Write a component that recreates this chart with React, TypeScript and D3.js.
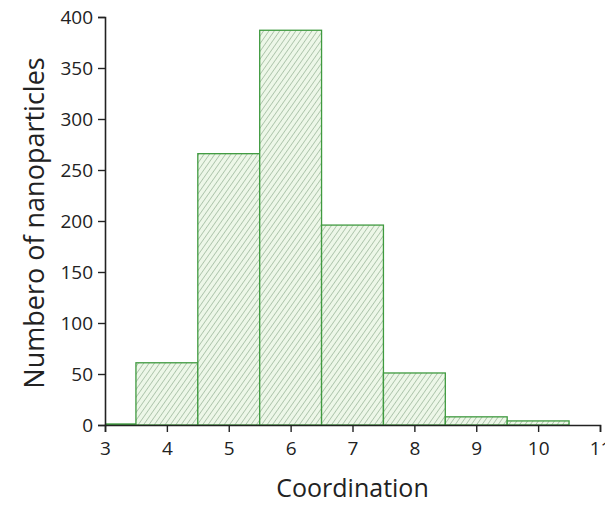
import React, { useEffect, useRef } from 'react';
import * as d3 from 'd3';

// histogram bins (centre of bin) and counts
const binCenters = [3, 4, 5, 6, 7, 8, 9, 10];
const counts = [1, 61, 266, 387, 196, 51, 8, 4];
const xTicks = [3, 4, 5, 6, 7, 8, 9, 10, 11];
const yTicks = [0, 50, 100, 150, 200, 250, 300, 350, 400];

const App = () => {
  const ref = useRef<SVGSVGElement>(null);

  useEffect(() => {
    const width = 605;
    const height = 506;
    const margin = { top: 17, right: 5, bottom: 81, left: 105 };

    const svg = d3.select(ref.current);
    svg.selectAll('*').remove();
    svg.attr('width', width).attr('height', height);

    const font = '"Open Sans", Lato, sans-serif';

    const x = d3.scaleLinear().domain([3, 11]).range([margin.left, width - margin.right]);
    const y = d3.scaleLinear().domain([0, 400]).range([height - margin.bottom, margin.top]);

    const defs = svg.append('defs');
    const pat = defs.append('pattern')
      .attr('id', 'hatch')
      .attr('patternUnits', 'userSpaceOnUse')
      .attr('width', 4.4)
      .attr('height', 10)
      .attr('patternTransform', 'rotate(35)');
    pat.append('rect').attr('width', 4.4).attr('height', 10).attr('fill', '#edf7e8');
    pat.append('line')
      .attr('x1', 0).attr('y1', 0).attr('x2', 0).attr('y2', 10)
      .attr('stroke', '#88a888').attr('stroke-width', 1.1);

    defs.append('clipPath').attr('id', 'plotclip')
      .append('rect')
      .attr('x', x(3)).attr('y', 0)
      .attr('width', x(11) - x(3)).attr('height', y(0) + 1);

    // bars
    svg.append('g')
      .attr('clip-path', 'url(#plotclip)')
      .selectAll('rect')
      .data(binCenters)
      .join('rect')
      .attr('x', (d) => x(d - 0.5))
      .attr('width', x(1) - x(0))
      .attr('y', (d, i) => y(counts[i]))
      .attr('height', (d, i) => y(0) - y(counts[i]))
      .attr('fill', 'url(#hatch)')
      .attr('stroke', '#3f9a3f')
      .attr('stroke-width', 1.3);

    // x axis
    const gx = svg.append('g').attr('transform', `translate(0,${y(0)})`);
    gx.call(d3.axisBottom(x).tickValues(d3.range(3.5, 11, 1)).tickSize(5).tickFormat(() => ''));
    gx.call(d3.axisBottom(x).tickValues(xTicks).tickSize(7).tickPadding(10).tickFormat(d3.format('d')));
    gx.selectAll('.domain').attr('stroke', '#222').attr('stroke-width', 1.6);
    gx.selectAll('.tick line').attr('stroke', '#222').attr('stroke-width', 1.4);
    gx.selectAll('.tick text').attr('font-family', font).attr('font-size', 19).attr('fill', '#222');

    // y axis
    const gy = svg.append('g').attr('transform', `translate(${x(3)},0)`);
    gy.call(d3.axisLeft(y).tickValues(d3.range(25, 400, 50)).tickSize(5).tickFormat(() => ''));
    gy.call(d3.axisLeft(y).tickValues(yTicks).tickSize(7).tickPadding(5).tickFormat(d3.format('d')));
    gy.selectAll('.domain').attr('stroke', '#222').attr('stroke-width', 1.6);
    gy.selectAll('.tick line').attr('stroke', '#222').attr('stroke-width', 1.4);
    gy.selectAll('.tick text').attr('font-family', font).attr('font-size', 19).attr('fill', '#222');

    // axis titles
    svg.append('text')
      .attr('x', (x(3) + x(11)) / 2)
      .attr('y', 497)
      .attr('text-anchor', 'middle')
      .attr('font-family', font)
      .attr('font-size', 25)
      .attr('fill', '#222')
      .text('Coordination');

    svg.append('text')
      .attr('transform', `translate(44,${(y(0) + y(400)) / 2 + 2}) rotate(-90)`)
      .attr('text-anchor', 'middle')
      .attr('font-family', font)
      .attr('font-size', 27)
      .attr('fill', '#222')
      .text('Numbero of nanoparticles');
  }, []);

  return <svg ref={ref} style={{ position: 'absolute', left: 0, top: 0, background: '#fff' }} />;
};

export default App;
